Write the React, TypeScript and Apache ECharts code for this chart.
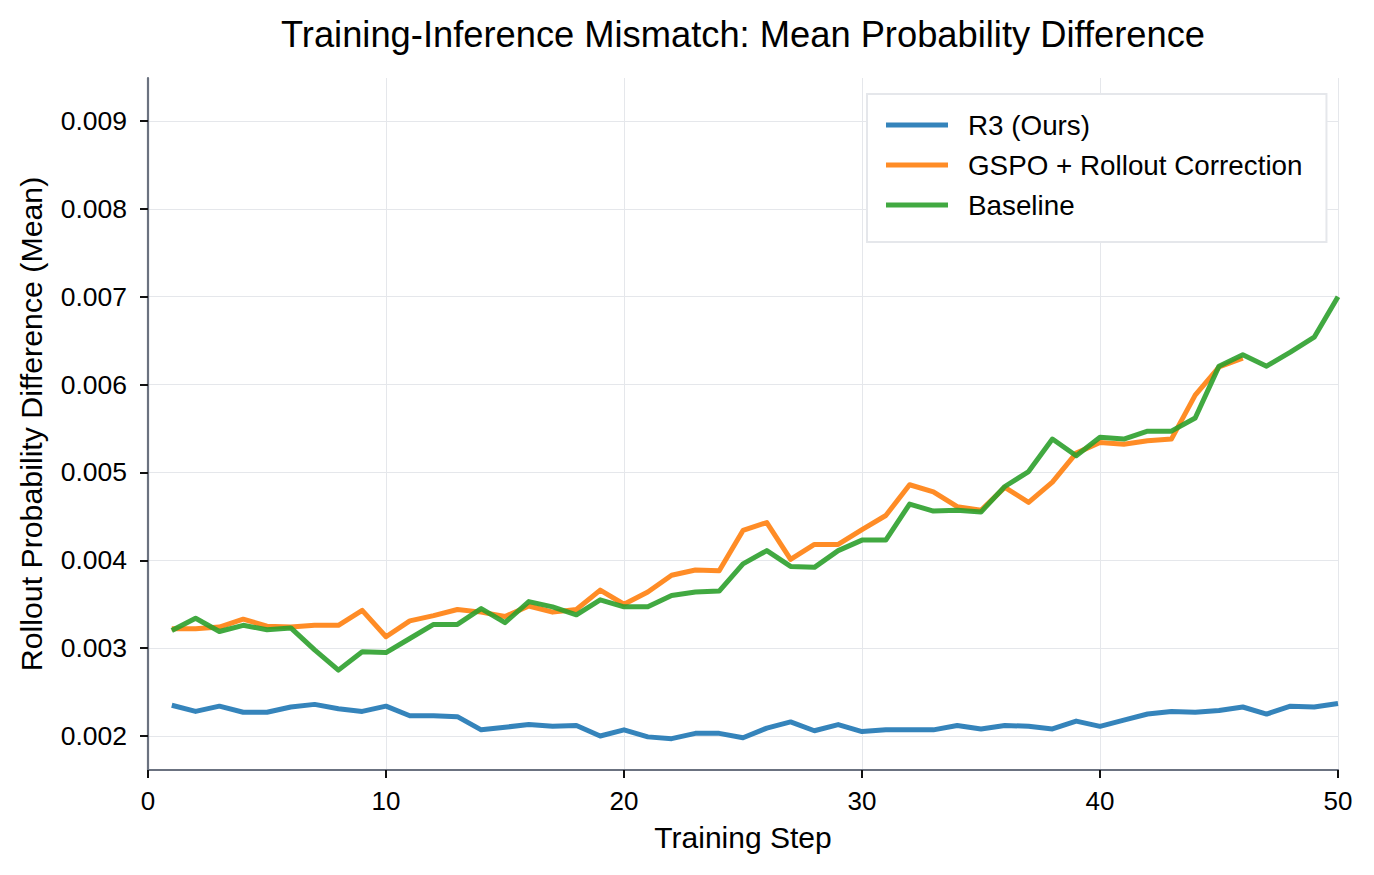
import React, { useEffect, useRef } from "react";
import * as echarts from "echarts";

const FONT = "Liberation Sans, Arial, Helvetica, sans-serif";

const TITLE = "Training-Inference Mismatch: Mean Probability Difference";
const X_NAME = "Training Step";
const Y_NAME = "Rollout Probability Difference (Mean)";

const SERIES_NAMES = ["R3 (Ours)", "GSPO + Rollout Correction", "Baseline"];
const SERIES_COLORS = ["rgba(31,119,180,0.9)", "rgba(255,127,14,0.9)", "rgba(44,160,44,0.9)"];

const steps = [
  1, 2, 3, 4, 5, 6, 7, 8, 9, 10,
  11, 12, 13, 14, 15, 16, 17, 18, 19, 20,
  21, 22, 23, 24, 25, 26, 27, 28, 29, 30,
  31, 32, 33, 34, 35, 36, 37, 38, 39, 40,
  41, 42, 43, 44, 45, 46, 47, 48, 49, 50,
];

const r3 = [
  0.00235, 0.00228, 0.00234, 0.00227, 0.00227, 0.00233, 0.00236, 0.00231, 0.00228, 0.00234,
  0.00223, 0.00223, 0.00222, 0.00207, 0.0021, 0.00213, 0.00211, 0.00212, 0.002, 0.00207,
  0.00199, 0.00197, 0.00203, 0.00203, 0.00198, 0.00209, 0.00216, 0.00206, 0.00213, 0.00205,
  0.00207, 0.00207, 0.00207, 0.00212, 0.00208, 0.00212, 0.00211, 0.00208, 0.00217, 0.00211,
  0.00218, 0.00225, 0.00228, 0.00227, 0.00229, 0.00233, 0.00225, 0.00234, 0.00233, 0.00237,
];

const gspo = [
  0.00322, 0.00322, 0.00324, 0.00333, 0.00325, 0.00324, 0.00326, 0.00326, 0.00343, 0.00313,
  0.00331, 0.00337, 0.00344, 0.00341, 0.00336, 0.00348, 0.00341, 0.00344, 0.00366, 0.0035,
  0.00364, 0.00383, 0.00389, 0.00388, 0.00434, 0.00443, 0.00401, 0.00418, 0.00418, 0.00435,
  0.00451, 0.00486, 0.00478, 0.00461, 0.00457, 0.00483, 0.00466, 0.00489, 0.00522, 0.00534,
  0.00532, 0.00536, 0.00538, 0.00588, 0.0062, 0.0063,
];

const baseline = [
  0.0032, 0.00334, 0.00319, 0.00326, 0.00321, 0.00323, 0.00298, 0.00275, 0.00296, 0.00295,
  0.00311, 0.00327, 0.00327, 0.00345, 0.00329, 0.00353, 0.00347, 0.00338, 0.00355, 0.00347,
  0.00347, 0.0036, 0.00364, 0.00365, 0.00396, 0.00411, 0.00393, 0.00392, 0.00411, 0.00423,
  0.00423, 0.00464, 0.00456, 0.00457, 0.00455, 0.00484, 0.00501, 0.00538, 0.00519, 0.0054,
  0.00538, 0.00547, 0.00547, 0.00562, 0.00621, 0.00634, 0.00621, 0.00637, 0.00654, 0.007,
];

const yTicks = [0.002, 0.003, 0.004, 0.005, 0.006, 0.007, 0.008, 0.009];
const Y_MIN = 0.001613;
const Y_MAX = 0.00949;

const GRID = { left: 148, right: 36, top: 78, bottom: 105 };

function pairs(values: number[]) {
  return values.map((v, i) => [steps[i], v]);
}

export default function App() {
  const ref = useRef<HTMLDivElement>(null);

  useEffect(() => {
    if (!ref.current) return;
    const chart = echarts.init(ref.current, undefined, { renderer: "svg" });
    const allSeries = [r3, gspo, baseline];
    const plotCenterX = GRID.left + (1374 - GRID.left - GRID.right) / 2;

    chart.setOption({
      animation: false,
      backgroundColor: "#ffffff",
      textStyle: { fontFamily: FONT },
      grid: { ...GRID, containLabel: false },
      graphic: [
        {
          type: "text",
          x: plotCenterX,
          y: 34,
          style: {
            text: TITLE,
            fontSize: 36.3,
            fontFamily: FONT,
            fill: "#000",
            textAlign: "center",
            textVerticalAlign: "middle",
          },
        },
      ],
      legend: {
        orient: "vertical",
        left: 867,
        top: 94,
        padding: [17, 24, 23, 19],
        itemWidth: 62,
        itemHeight: 5,
        itemGap: 12,
        icon: "rect",
        backgroundColor: "#ffffff",
        borderColor: "#e5e7eb",
        borderWidth: 2,
        borderRadius: 0,
        selectedMode: false,
        textStyle: {
          fontSize: 27.8,
          fontFamily: FONT,
          color: "#000",
          padding: [0, 0, 0, 15],
        },
        data: SERIES_NAMES,
      },
      xAxis: {
        type: "value",
        min: 0,
        max: 50,
        interval: 10,
        name: X_NAME,
        nameLocation: "middle",
        nameGap: 52,
        nameTextStyle: { fontSize: 30, fontFamily: FONT, color: "#000" },
        axisLine: { show: true, lineStyle: { color: "#6b7280", width: 2.2 } },
        axisTick: { show: true, length: 8, lineStyle: { color: "#111", width: 2 } },
        axisLabel: { fontSize: 26, fontFamily: FONT, color: "#000", margin: 18 },
        splitLine: { show: true, lineStyle: { color: "#e5e7eb", width: 1 } },
      },
      yAxis: {
        type: "value",
        min: Y_MIN,
        max: Y_MAX,
        name: Y_NAME,
        nameLocation: "middle",
        nameRotate: 90,
        nameGap: 102,
        nameTextStyle: { fontSize: 30.3, fontFamily: FONT, color: "#000" },
        axisLine: { show: true, lineStyle: { color: "#6b7280", width: 2.2 } },
        axisTick: {
          show: true,
          length: 8,
          customValues: yTicks,
          lineStyle: { color: "#111", width: 2 },
        },
        axisLabel: {
          fontSize: 26.5,
          fontFamily: FONT,
          color: "#000",
          margin: 21,
          customValues: yTicks,
          formatter: (v: number) => v.toFixed(3),
        },
        splitLine: { show: true, lineStyle: { color: "#e5e7eb", width: 1 } },
      },
      series: SERIES_NAMES.map((name, i) => ({
        name,
        type: "line",
        data: pairs(allSeries[i]),
        showSymbol: false,
        symbol: "none",
        lineStyle: { color: SERIES_COLORS[i], width: 5, join: "round", cap: "butt" },
        itemStyle: { color: SERIES_COLORS[i] },
        emphasis: { disabled: true },
        z: 2 + i,
      })),
    });

    return () => chart.dispose();
  }, []);

  return (
    <div
      ref={ref}
      style={{ position: "fixed", left: 0, top: 0, width: 1374, height: 875 }}
    />
  );
}
